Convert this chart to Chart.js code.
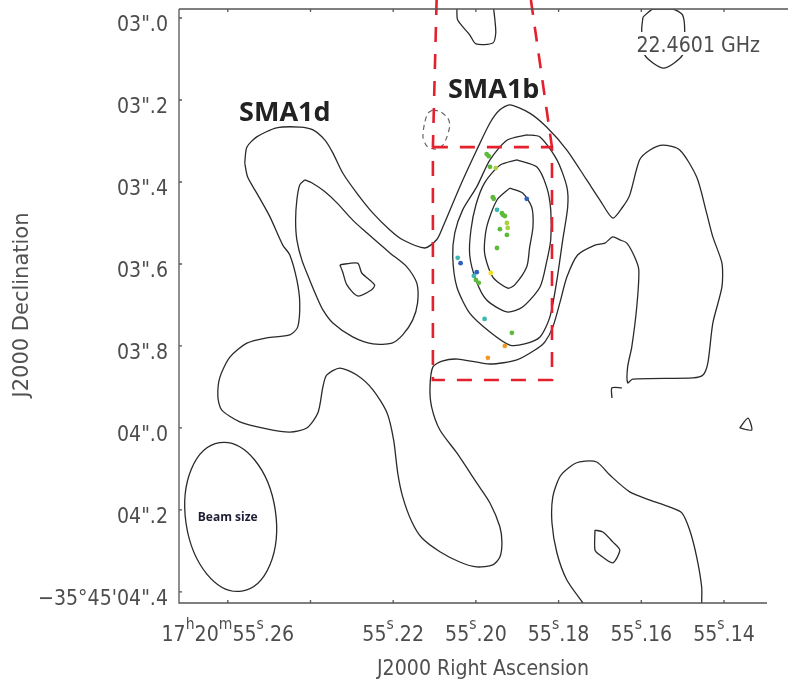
<!DOCTYPE html>
<html>
<head>
<meta charset="utf-8">
<title>SMA1b 22.4601 GHz</title>
<script src="https://cdn.jsdelivr.net/npm/chart.js@4.4.1/dist/chart.umd.min.js"></script>
<style>
    html, body { margin: 0; padding: 0; background: #fff; }
    #wrap { width: 788px; height: 683px; position: relative; }
</style>
</head>
<body>
<div id="wrap"><canvas id="contour-map"></canvas></div>
<script>
(function () {
    'use strict';

    // Axes: RA in seconds of 17h20m, Dec in arcsec below -35d45'
    // '^' marks the next character as a superscript
    var raTicks = [55.26, 55.24, 55.22, 55.20, 55.18, 55.16, 55.14];
    var raTickLabels = ['17^h20^m55^s.26', '', '55^s.22', '55^s.20', '55^s.18', '55^s.16', '55^s.14'];
    var decTicks = [3.0, 3.2, 3.4, 3.6, 3.8, 4.0, 4.2, 4.4];
    var decTickLabels = ['03".0', '03".2', '03".4', '03".6', '03".8', '04".0', '04".2', '\u221235\u00b045\'04".4'];
    var raRange = [55.1296, 55.2718];
    var decRange = [2.978, 4.427];

    // Lowest contour: one loop through SMA1d, SMA1b, the east lobe and the southern tongue
    var outerContour = [
        [55.2559, 3.354], [55.2554, 3.315], [55.2530, 3.290], [55.2482, 3.268], [55.2426, 3.266],
        [55.2394, 3.273], [55.2365, 3.298], [55.2346, 3.329], [55.2322, 3.378], [55.2288, 3.427],
        [55.2249, 3.476], [55.2208, 3.517], [55.2177, 3.541], [55.2124, 3.561], [55.2095, 3.541],
        [55.2080, 3.510], [55.2039, 3.412], [55.1998, 3.322], [55.1966, 3.256], [55.1942, 3.224],
        [55.1918, 3.212], [55.1870, 3.232], [55.1829, 3.266], [55.1780, 3.322], [55.1732, 3.395],
        [55.1700, 3.444], [55.1669, 3.488], [55.1645, 3.461], [55.1628, 3.432], [55.1604, 3.346],
        [55.1579, 3.322], [55.1548, 3.310], [55.1507, 3.322], [55.1466, 3.388], [55.1442, 3.476],
        [55.1427, 3.534], [55.1405, 3.598], [55.1405, 3.656], [55.1427, 3.744], [55.1439, 3.841],
        [55.1451, 3.871], [55.1475, 3.878], [55.1621, 3.881], [55.1633, 3.890], [55.1633, 3.851],
        [55.1623, 3.802], [55.1611, 3.705], [55.1606, 3.615], [55.1616, 3.583], [55.1635, 3.549],
        [55.1652, 3.541], [55.1669, 3.534], [55.1688, 3.549], [55.1712, 3.554], [55.1754, 3.578],
        [55.1780, 3.632], [55.1797, 3.695], [55.1814, 3.754], [55.1833, 3.790], [55.1853, 3.807],
        [55.1901, 3.834], [55.1966, 3.844], [55.2044, 3.832], [55.2082, 3.837], [55.2104, 3.851],
        [55.2111, 3.900], [55.2107, 3.949], [55.2087, 4.005], [55.2046, 4.061], [55.1998, 4.134],
        [55.1966, 4.183], [55.1942, 4.241], [55.1937, 4.280], [55.1942, 4.315], [55.1959, 4.334],
        [55.1998, 4.339], [55.2039, 4.327], [55.2087, 4.302], [55.2131, 4.268], [55.2155, 4.229],
        [55.2177, 4.168], [55.2189, 4.110], [55.2199, 4.029], [55.2215, 3.963], [55.2249, 3.907],
        [55.2288, 3.871], [55.2329, 3.854], [55.2361, 3.871], [55.2370, 3.900], [55.2382, 3.963],
        [55.2409, 4.000], [55.2450, 4.010], [55.2506, 4.002], [55.2571, 3.985], [55.2615, 3.956],
        [55.2624, 3.924], [55.2619, 3.876], [55.2595, 3.827], [55.2554, 3.793], [55.2506, 3.780],
        [55.2450, 3.773], [55.2431, 3.754], [55.2426, 3.695], [55.2433, 3.639], [55.2450, 3.578],
        [55.2467, 3.554], [55.2498, 3.485], [55.2530, 3.427], [55.2552, 3.388], [55.2559, 3.354]
    ];

    // SMA1b rings
    var sma1bRing2 = [
        [55.1877, 3.285], [55.1845, 3.290], [55.1804, 3.346], [55.1780, 3.412], [55.1778, 3.461],
        [55.1790, 3.541], [55.1804, 3.639], [55.1821, 3.729], [55.1845, 3.778], [55.1882, 3.795],
        [55.1918, 3.798], [55.1966, 3.766], [55.2015, 3.720], [55.2046, 3.656], [55.2056, 3.583],
        [55.2051, 3.524], [55.2032, 3.468], [55.1998, 3.412], [55.1966, 3.346], [55.1925, 3.298],
        [55.1877, 3.285]
    ];
    var sma1bRing3 = [
        [55.1901, 3.346], [55.1853, 3.363], [55.1829, 3.412], [55.1819, 3.468], [55.1819, 3.541],
        [55.1829, 3.595], [55.1845, 3.656], [55.1887, 3.705], [55.1925, 3.717], [55.1974, 3.688],
        [55.2000, 3.639], [55.2015, 3.578], [55.2012, 3.517], [55.2000, 3.456], [55.1979, 3.402],
        [55.1942, 3.359], [55.1901, 3.346]
    ];
    var sma1bRing4 = [
        [55.1918, 3.415], [55.1887, 3.427], [55.1865, 3.461], [55.1862, 3.510], [55.1870, 3.559],
        [55.1877, 3.607], [55.1906, 3.651], [55.1923, 3.659], [55.1959, 3.632], [55.1979, 3.573],
        [55.1974, 3.510], [55.1949, 3.444], [55.1918, 3.415]
    ];

    // SMA1d inner rings
    var sma1dRing2 = [
        [55.2414, 3.395], [55.2397, 3.402], [55.2365, 3.424], [55.2336, 3.451], [55.2298, 3.493],
        [55.2264, 3.524], [55.2208, 3.573], [55.2167, 3.607], [55.2143, 3.646], [55.2141, 3.695],
        [55.2153, 3.737], [55.2177, 3.773], [55.2203, 3.793], [55.2249, 3.795], [55.2298, 3.778],
        [55.2346, 3.744], [55.2370, 3.712], [55.2385, 3.680], [55.2402, 3.639], [55.2421, 3.590],
        [55.2433, 3.541], [55.2436, 3.493], [55.2433, 3.444], [55.2426, 3.407], [55.2414, 3.395]
    ];
    var sma1dRing3 = [
        [55.2329, 3.602], [55.2286, 3.598], [55.2276, 3.622], [55.2245, 3.651], [55.2252, 3.663],
        [55.2286, 3.678], [55.2312, 3.651], [55.2322, 3.620], [55.2329, 3.602]
    ];

    // Smaller pieces of the lowest level
    var northPatch = [
        [55.2046, 2.978], [55.2044, 3.005], [55.2015, 3.041], [55.2000, 3.063], [55.1959, 3.061],
        [55.1952, 3.037], [55.1954, 3.005], [55.1957, 2.978]
    ];
    var northEastPatch = [
        [55.1596, 2.998], [55.1572, 2.978], [55.1524, 2.978], [55.1500, 2.993], [55.1495, 3.034],
        [55.1500, 3.090], [55.1546, 3.122], [55.1592, 3.090], [55.1599, 3.029], [55.1596, 2.998]
    ];
    var eastLobeSpur = [[55.1671, 3.927], [55.1671, 3.902], [55.1647, 3.902]];
    var eastSpeck = [[55.1362, 4.000], [55.1342, 3.976], [55.1333, 4.005], [55.1362, 4.000]];
    var southBlob = [
        [55.1741, 4.427], [55.1780, 4.371], [55.1804, 4.305], [55.1816, 4.232], [55.1814, 4.168],
        [55.1797, 4.119], [55.1773, 4.095], [55.1749, 4.083], [55.1708, 4.083], [55.1676, 4.115],
        [55.1628, 4.156], [55.1579, 4.176], [55.1531, 4.193], [55.1502, 4.207], [55.1483, 4.249],
        [55.1466, 4.315], [55.1454, 4.388], [55.1454, 4.427]
    ];
    var southBlobCore = [
        [55.1712, 4.249], [55.1693, 4.254], [55.1669, 4.278], [55.1652, 4.298], [55.1669, 4.329],
        [55.1700, 4.310], [55.1712, 4.298], [55.1712, 4.249]
    ];

    // Negative contour (dashed)
    var negativeContour = [
        [55.2104, 3.224], [55.2085, 3.229], [55.2068, 3.244], [55.2063, 3.261], [55.2070, 3.290],
        [55.2080, 3.310], [55.2099, 3.320], [55.2119, 3.312], [55.2128, 3.290], [55.2124, 3.256],
        [55.2116, 3.232], [55.2104, 3.224]
    ];

    // Zoom region marked in red
    var zoomBox = [[55.2104, 3.315], [55.1816, 3.315], [55.1816, 3.883], [55.2104, 3.883], [55.2104, 3.315]];
    var zoomLeftEdge = [[55.2095, 2.956], [55.2104, 3.315]];
    var zoomRightEdge = [[55.1867, 2.956], [55.1816, 3.315]];

    // Maser spots by velocity colour
    var spotsGreen = [
        [55.1974, 3.332], [55.1969, 3.337], [55.1966, 3.363], [55.1959, 3.437], [55.1957, 3.441],
        [55.1937, 3.476], [55.1935, 3.480], [55.1930, 3.483], [55.1942, 3.515], [55.1925, 3.529],
        [55.1949, 3.561], [55.2000, 3.639], [55.1993, 3.646], [55.1913, 3.768]
    ];
    var spotsLime = [[55.1952, 3.366], [55.1925, 3.500], [55.1923, 3.512]];
    var spotsBlue = [[55.1877, 3.441], [55.2037, 3.598], [55.1998, 3.620]];
    var spotsCyan = [[55.1949, 3.468], [55.2044, 3.585], [55.2005, 3.629], [55.1979, 3.734]];
    var spotsYellow = [[55.1964, 3.622]];
    var spotsOrange = [[55.1930, 3.800], [55.1971, 3.829]];

    // Synthesised beam (arcsec, deg)
    var beamCenter = [55.2593, 4.217];
    var beamMajor = 0.366;
    var beamMinor = 0.220;
    var beamPA = 8.4;

    var INK = '#2a2a2a';
    var AXIS = '#555555';
    var LABEL = '#4d4d4d';
    var TICK_FONT = '19px "DejaVu Sans"';
    var SUP_FONT = '14px "DejaVu Sans"';
    var STRETCH = 1.15;

    function toXY(points) {
        return points.map(function (p) {
            return { x: p[0], y: p[1] };
        });
    }

    function contour(points) {
        return {
            data: toXY(points),
            showLine: true,
            borderColor: INK,
            borderWidth: 1.3,
            pointRadius: 0,
            tension: 0.25,
            fill: false,
            order: 3
        };
    }

    function redLine(points) {
        return {
            data: toXY(points),
            showLine: true,
            borderColor: '#e3202e',
            borderWidth: 2.6,
            borderDash: [15, 12],
            pointRadius: 0,
            tension: 0,
            fill: false,
            clip: false,
            order: 2
        };
    }

    function spots(points, color) {
        return {
            data: toXY(points),
            showLine: false,
            pointRadius: 2.4,
            pointBorderWidth: 0,
            pointBackgroundColor: color,
            backgroundColor: color,
            borderColor: color,
            order: 1
        };
    }

    var negative = contour(negativeContour);
    negative.borderColor = '#666666';
    negative.borderWidth = 1.2;
    negative.borderDash = [5, 4];

    var datasets = [
        contour(outerContour),
        contour(sma1bRing2),
        contour(sma1bRing3),
        contour(sma1bRing4),
        contour(sma1dRing2),
        contour(sma1dRing3),
        contour(northPatch),
        contour(northEastPatch),
        contour(eastLobeSpur),
        contour(eastSpeck),
        contour(southBlob),
        contour(southBlobCore),
        negative,
        redLine(zoomBox),
        redLine(zoomLeftEdge),
        redLine(zoomRightEdge),
        spots(spotsGreen, '#5dbb3a'),
        spots(spotsLime, '#a9d03a'),
        spots(spotsBlue, '#2f5fc0'),
        spots(spotsCyan, '#3cb8b0'),
        spots(spotsYellow, '#f2e21f'),
        spots(spotsOrange, '#f09a2a')
    ];

    /**
     * Draw a label with superscripts, slightly stretched vertically.
     */
    function drawTickText(ctx, text, x, y, align) {
        var parts = [];
        var total = 0;
        for (var i = 0; i < text.length; i++) {
            if (text[i] === '^') {
                parts.push({ t: text[i + 1], sup: true });
                i++;
            } else {
                parts.push({ t: text[i], sup: false });
            }
        }
        parts.forEach(function (p) {
            ctx.font = p.sup ? SUP_FONT : TICK_FONT;
            p.w = ctx.measureText(p.t).width;
            total += p.w;
        });
        var sx = x - total / 2;
        if (align === 'right') {
            sx = x - total;
        } else if (align === 'left') {
            sx = x;
        }
        ctx.save();
        ctx.translate(sx, y);
        ctx.scale(1, STRETCH);
        ctx.textAlign = 'left';
        ctx.textBaseline = 'alphabetic';
        var cx = 0;
        parts.forEach(function (p) {
            ctx.font = p.sup ? SUP_FONT : TICK_FONT;
            ctx.fillText(p.t, cx, p.sup ? -10.5 : 0);
            cx += p.w;
        });
        ctx.restore();
        return total;
    }

    /**
     * Frame, inward ticks, tick labels, annotations and axis titles.
     */
    var mapDecor = {
        id: 'mapDecor',
        afterDatasetsDraw: function (chart) {
            var ctx = chart.ctx;
            var a = chart.chartArea;
            var xs = chart.scales.x;
            var ys = chart.scales.y;

            ctx.save();

            // frame (no right edge, top line runs to the canvas edge)
            ctx.strokeStyle = AXIS;
            ctx.lineWidth = 1.3;
            ctx.beginPath();
            ctx.moveTo(a.left, a.top);
            ctx.lineTo(chart.width, a.top);
            ctx.moveTo(a.left, a.top);
            ctx.lineTo(a.left, a.bottom);
            ctx.lineTo(a.right, a.bottom);
            raTicks.forEach(function (v) {
                var px = xs.getPixelForValue(v);
                ctx.moveTo(px, a.bottom);
                ctx.lineTo(px, a.bottom - 3);
                ctx.moveTo(px, a.top);
                ctx.lineTo(px, a.top + 3);
            });
            decTicks.forEach(function (v) {
                var py = ys.getPixelForValue(v);
                ctx.moveTo(a.left, py);
                ctx.lineTo(a.left + 3, py);
            });
            ctx.stroke();

            // tick labels
            ctx.fillStyle = LABEL;
            raTicks.forEach(function (v, i) {
                if (raTickLabels[i]) {
                    drawTickText(ctx, raTickLabels[i], xs.getPixelForValue(v), a.bottom + 38, 'center');
                }
            });
            decTicks.forEach(function (v, i) {
                drawTickText(ctx, decTickLabels[i], a.left - 11, ys.getPixelForValue(v) + 13, 'right');
            });

            // beam
            var bx = xs.getPixelForValue(beamCenter[0]);
            var by = ys.getPixelForValue(beamCenter[1]);
            var ry = Math.abs(ys.getPixelForValue(beamCenter[1] + beamMajor / 2) - by);
            var rx = Math.abs(ys.getPixelForValue(beamCenter[1] + beamMinor / 2) - by);
            ctx.strokeStyle = INK;
            ctx.lineWidth = 1.3;
            ctx.beginPath();
            ctx.ellipse(bx, by, rx, ry, -beamPA * Math.PI / 180, 0, Math.PI * 2);
            ctx.stroke();

            ctx.fillStyle = '#1d1d33';
            ctx.font = 'bold 12px "Open Sans"';
            ctx.textAlign = 'center';
            ctx.textBaseline = 'middle';
            ctx.fillText('Beam size', bx - 3, by + 1);

            // source names
            ctx.fillStyle = '#222222';
            ctx.font = 'bold 27px "Open Sans"';
            ctx.fillText('SMA1d', xs.getPixelForValue(55.2462), ys.getPixelForValue(3.232));
            ctx.fillText('SMA1b', xs.getPixelForValue(55.1957), ys.getPixelForValue(3.176));

            // frequency label on a white box
            ctx.font = TICK_FONT;
            var label = '22.4601 GHz';
            var fw = ctx.measureText(label).width;
            var fx = a.right - 7 - fw;
            var fy = a.top + 43;
            ctx.fillStyle = '#ffffff';
            ctx.fillRect(fx - 3, fy - 20, fw + 6, 23);
            ctx.fillStyle = LABEL;
            drawTickText(ctx, label, fx, fy, 'left');

            // axis titles
            ctx.fillStyle = '#505050';
            ctx.save();
            ctx.translate(a.left + (a.right - a.left) / 2 + 10, chart.height - 8);
            ctx.scale(1, 1.1);
            ctx.font = '19px "DejaVu Sans"';
            ctx.textAlign = 'center';
            ctx.textBaseline = 'alphabetic';
            ctx.fillText('J2000 Right Ascension', 0, 0);
            ctx.restore();

            ctx.translate(23, 305);
            ctx.rotate(-Math.PI / 2);
            ctx.font = '21px "DejaVu Sans"';
            ctx.textAlign = 'center';
            ctx.textBaseline = 'middle';
            ctx.fillText('J2000 Declination', 0, 0);

            ctx.restore();
        }
    };

    function noPadding(scale) {
        scale.paddingTop = 0;
        scale.paddingBottom = 0;
        scale.paddingLeft = 0;
        scale.paddingRight = 0;
    }

    var canvas = document.getElementById('contour-map');

    new Chart(canvas.getContext('2d'), {
        type: 'scatter',
        data: { datasets: datasets },
        options: {
            responsive: true,
            maintainAspectRatio: false,
            animation: false,
            events: [],
            layout: {
                padding: { top: 9, right: 21, left: 0, bottom: 0 }
            },
            plugins: {
                legend: { display: false },
                tooltip: { enabled: false }
            },
            scales: {
                x: {
                    type: 'linear',
                    reverse: true,
                    min: raRange[0],
                    max: raRange[1],
                    grid: { display: false, drawTicks: false },
                    border: { display: false },
                    ticks: { display: false },
                    afterFit: function (scale) {
                        scale.height = 80;
                        noPadding(scale);
                    }
                },
                y: {
                    type: 'linear',
                    reverse: true,
                    min: decRange[0],
                    max: decRange[1],
                    grid: { display: false, drawTicks: false },
                    border: { display: false },
                    ticks: { display: false },
                    afterFit: function (scale) {
                        scale.width = 179;
                        noPadding(scale);
                    }
                }
            }
        },
        plugins: [mapDecor]
    });
})();
</script>
</body>
</html>
